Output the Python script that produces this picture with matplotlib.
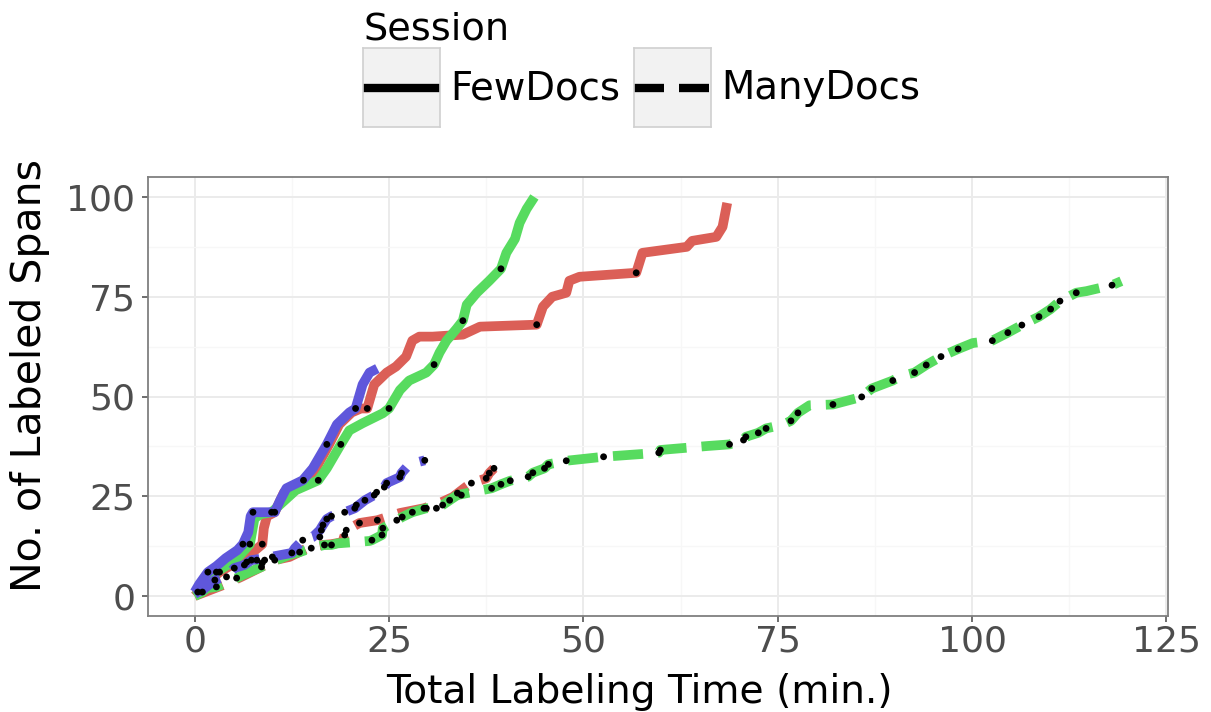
import numpy as np
import matplotlib.pyplot as plt

# colours per annotator, line style per session
red = '#db5f57'
green = '#57db5f'
blue = '#5f57db'

# FewDocs session (solid)
few_blue_x = [0, 0.6, 1.7, 2.8, 4, 5.5, 6.2, 6.9, 7.2, 7.5, 10.3, 11, 11.8, 13.9, 15.2, 17, 18.3, 19.9, 20.7, 21.6, 22.5, 23.5]
few_blue_y = [1, 3, 6, 7.5, 9.5, 11.5, 13, 16, 20, 21, 21, 24, 27, 29, 32, 38, 43, 46, 47, 53, 56, 57]
few_blue_dot_x = [1.7, 6.2, 7.5, 14.0, 17.0, 20.7]
few_blue_dot_y = [6, 13, 21, 29, 38, 47]

few_red_x = [0, 1, 2, 3.2, 4.5, 6, 7.5, 8.7, 8.9, 9.3, 10.3, 11.5, 14.5, 15.6, 17.3, 18.6, 20.2, 21.4, 22.2, 23.1, 24.7,
             25.9, 27.2, 28, 28.9, 30.6, 34.5, 36.7, 44, 44.8, 46, 47.8, 48.2, 49.5, 56.8, 57.6, 63.3, 64, 67.1, 67.9, 68.5]
few_red_y = [0, 2, 4, 6, 7.5, 9, 11, 13, 17, 20, 21, 26, 29, 32, 38, 43, 46, 47, 47, 53, 56,
             57.5, 60, 64, 65, 65, 65.5, 67.5, 68, 72.5, 75, 76, 79, 80, 81, 86, 87.5, 89, 90, 92.5, 98.5]
few_red_dot_x = [3.2, 8.7, 10.3, 22.2, 44.0, 56.8]
few_red_dot_y = [6, 13, 21, 47, 68, 81]

few_green_x = [0, 1, 2, 2.8, 4, 5.5, 7.1, 7.7, 8.5, 9.9, 11.6, 13, 15.9, 17, 18.8, 19.9, 21.6, 24.2, 25, 26.4, 27.6, 29.8,
               30.8, 31.5, 32.4, 33.7, 34.5, 35, 36.3, 37.9, 39.4, 40.1, 41.2, 41.8, 42.7, 43.7]
few_green_y = [0, 1, 3, 6, 7.5, 9.5, 13, 19.5, 20.5, 21, 24, 26.5, 29, 32, 38, 41.5, 43.3, 45.8, 47, 51.6, 54, 56,
               58, 61, 64, 67, 69, 73, 76, 79, 82, 86, 89.5, 93.5, 97, 100]
few_green_dot_x = [2.8, 7.1, 9.9, 15.9, 18.8, 25.0, 30.8, 34.5, 39.4]
few_green_dot_y = [6, 13, 21, 29, 38, 47, 58, 69, 82]

# ManyDocs session (dashed)
many_blue_x = [0, 0.4, 1, 2.6, 4.1, 5.1, 6.4, 7.3, 8, 10, 10.3, 12.5, 12.9, 13.9, 15.2, 16.1, 16.5, 17, 17.6, 19.3,
               20.6, 21.9, 23.1, 24.4, 24.7, 26.4, 26.6, 27.6, 29.6]
many_blue_y = [0.5, 1, 1.5, 4, 5, 7, 7.8, 9, 9.2, 9.8, 10, 10.8, 12, 14, 14.8, 16.5, 17.8, 19.3, 20, 21,
               22, 24, 25.3, 27.3, 28.3, 29.8, 30.8, 33, 34]
many_blue_dot_x = [0.4, 1, 2.6, 4.1, 5.1, 6.4, 6.7, 7.3, 8, 9, 10, 12.5, 13.9, 16.1, 16.3, 16.5, 17, 17.6, 19.3,
                   20.6, 20.8, 21.9, 23.1, 23.4, 24.4, 24.7, 26.4, 26.6, 29.6]
many_blue_dot_y = [1, 1, 4, 4.8, 7, 7.8, 8.5, 9, 9, 9, 9.8, 10.8, 14, 14.8, 16.5, 17.8, 19.3, 20, 21,
                   22, 22.8, 24, 25.3, 26, 27.3, 28.3, 29.8, 30.8, 34]

many_red_x = [0, 2, 4, 6, 8.6, 10.3, 12.2, 14.8, 16.5, 17.6, 19, 19.3, 19.5, 21.2, 23.5, 26.4, 29.5, 31.5, 33.2, 35,
              35.6, 37.5, 37.9, 38.5]
many_red_y = [0, 1.5, 3, 4.8, 7.3, 9, 9.8, 12.3, 12.8, 13, 13.5, 15.3, 16.5, 18.3, 19, 20.8, 22, 23.3, 24.8, 27.5,
              28.3, 29.5, 30.8, 32]
many_red_dot_x = [2.8, 5.4, 8.6, 8.7, 10.3, 19.3, 19.5, 21.2, 23.5, 29.5, 35.6, 37.5, 37.9, 38.5]
many_red_dot_y = [2.3, 4.5, 7.3, 8.3, 9, 15.3, 16.5, 18.3, 19, 22, 28.3, 29.5, 30.8, 32]

many_green_x = [0, 1.7, 2.8, 5.4, 6.2, 8.6, 10.5, 12.2, 13.5, 15, 16.7, 17.6, 18.4, 22.5, 22.8, 24.1, 24.2, 26, 26.7,
                28, 29.8, 31.1, 31.9, 32.8, 33.8, 34.3, 36.3, 38.2, 39.4, 40.6, 42.9, 43.5, 45, 45.5, 47.8, 52.6,
                57.6, 59.7, 59.9, 66, 68.8, 70.6, 70.9, 72.5, 73.5, 75.6, 76.7, 77.6, 79.1, 82.1, 85.8, 87.1, 89.8,
                90.7, 92.6, 94.1, 96, 98.2, 100.1, 102.6, 104.6, 106.4, 108.6, 110.1, 111.3, 113.4, 114.7, 118, 119.2]
many_green_y = [0, 2, 2.3, 4.5, 5.3, 7.3, 9, 10.3, 11, 12, 12.8, 12.8, 13.2, 13.8, 14, 15.3, 17, 19, 19.8,
                21, 22, 22, 22.8, 24, 25.3, 25.5, 26.3, 27, 28, 28.9, 29.9, 30.9, 32, 33, 33.9, 34.9,
                35.6, 35.9, 36.6, 37.6, 38, 39.1, 39.9, 40.9, 42, 42.9, 43.9, 45.9, 47.8, 48, 49.9, 52, 54,
                55, 56, 57.9, 60, 61.9, 63.4, 64, 66, 67.9, 70, 71.9, 73.9, 76, 76.4, 77.9, 78.9]
many_green_dot_x = [13.5, 15, 16.7, 17.6, 22.8, 24.1, 24.2, 26, 26.7, 28, 29.8, 31.1, 31.9, 32.8, 33.8, 34.3, 38.2,
                    39.4, 40.6, 42.9, 43.5, 45, 45.5, 47.8, 52.6, 59.7, 59.9, 68.8, 70.6, 70.9, 72.5, 73.5, 76.7,
                    77.6, 82.1, 85.8, 87.1, 89.8, 92.6, 94.1, 96, 98.2, 102.6, 104.6, 106.4, 108.6, 110.1, 111.3,
                    113.4, 118]
many_green_dot_y = [11, 12, 12.8, 12.8, 14, 15.3, 17, 19, 19.8, 21, 22, 22, 22.8, 24, 25.8, 25.3, 27,
                    28, 28.9, 29.9, 30.9, 32, 33, 33.9, 34.9, 35.9, 36.6, 38, 39.1, 39.9, 40.9, 42, 43.9,
                    45.9, 48, 49.9, 52, 54, 56, 57.9, 60, 61.9, 64, 66, 67.9, 70, 71.9, 73.9,
                    76, 77.9]

x_ticks = [0, 25, 50, 75, 100, 125]
y_ticks = [0, 25, 50, 75, 100]

lw = 7
dash = (0, (3.1, 1.55))

fig = plt.figure(figsize=(12.11, 7.12), dpi=100)
ax = fig.add_axes([148 / 1211, 1 - 616 / 712, 1020 / 1211, 439 / 712])

# grid like theme_bw
for v in np.arange(-12.5, 130, 12.5):
    major = v in x_ticks
    ax.axvline(v, color='#ebebeb' if major else '#f7f7f7', lw=1.4 if major else 0.9, zorder=0)
for v in np.arange(-12.5, 110, 12.5):
    major = v in y_ticks
    ax.axhline(v, color='#ebebeb' if major else '#f7f7f7', lw=1.4 if major else 0.9, zorder=0)

series = [
    (few_red_x, few_red_y, red, '-'),
    (many_red_x, many_red_y, red, dash),
    (few_green_x, few_green_y, green, '-'),
    (many_green_x, many_green_y, green, dash),
    (few_blue_x, few_blue_y, blue, '-'),
    (many_blue_x, many_blue_y, blue, dash),
]
for xs, ys, c, ls in series:
    ax.plot(xs, ys, color=c, lw=lw, ls=ls, solid_capstyle='butt', dash_capstyle='butt',
            solid_joinstyle='round', dash_joinstyle='round', zorder=2)

dots = [
    (few_red_dot_x, few_red_dot_y), (many_red_dot_x, many_red_dot_y),
    (few_green_dot_x, few_green_dot_y), (many_green_dot_x, many_green_dot_y),
    (few_blue_dot_x, few_blue_dot_y), (many_blue_dot_x, many_blue_dot_y),
]
for xs, ys in dots:
    ax.scatter(xs, ys, s=24, color='black', edgecolor='none', zorder=3)

ax.set_xlim(-6, 125.2)
ax.set_ylim(-5, 105)
ax.set_xticks(x_ticks)
ax.set_yticks(y_ticks)
ax.tick_params(colors='#4d4d4d', labelsize=26, length=4, width=1.2, pad=5)
ax.tick_params(axis='x', pad=2)
ax.tick_params(axis='both', color='#555555')
for s in ax.spines.values():
    s.set_color('#7f7f7f')
    s.set_linewidth(1.3)
ax.set_xlabel('Total Labeling Time (min.)', fontsize=28.2)
ax.set_ylabel('No. of Labeled Spans', fontsize=29.5)
ax.xaxis.set_label_coords(0.482, -0.13)
ax.yaxis.set_label_coords(-0.096, 0.547)

# legend drawn by hand, ggplot style keys
fig.text(363 / 1211, 1 - 40 / 712, 'Session', fontsize=27.5, va='baseline', ha='left')
keys = [(363, 'FewDocs', '-'), (634, 'ManyDocs', dash)]
for left, label, ls in keys:
    kax = fig.add_axes([left / 1211, 1 - 127 / 712, 77 / 1211, 79 / 712])
    kax.set_facecolor('#f2f2f2')
    for s in kax.spines.values():
        s.set_color('#d0d0d0')
        s.set_linewidth(1.2)
    kax.plot([0, 1], [0.5, 0.5], color='black', lw=6, ls=(0, (3.6, 1.8)) if ls != '-' else '-',
             solid_capstyle='butt', dash_capstyle='butt')
    kax.set_xlim(0, 1)
    kax.set_ylim(0, 1)
    kax.set_xticks([])
    kax.set_yticks([])
    fig.text((left + 87) / 1211, 1 - 88 / 712, label, fontsize=27.8, va='center', ha='left')

fig.savefig('out.png', dpi=100)
